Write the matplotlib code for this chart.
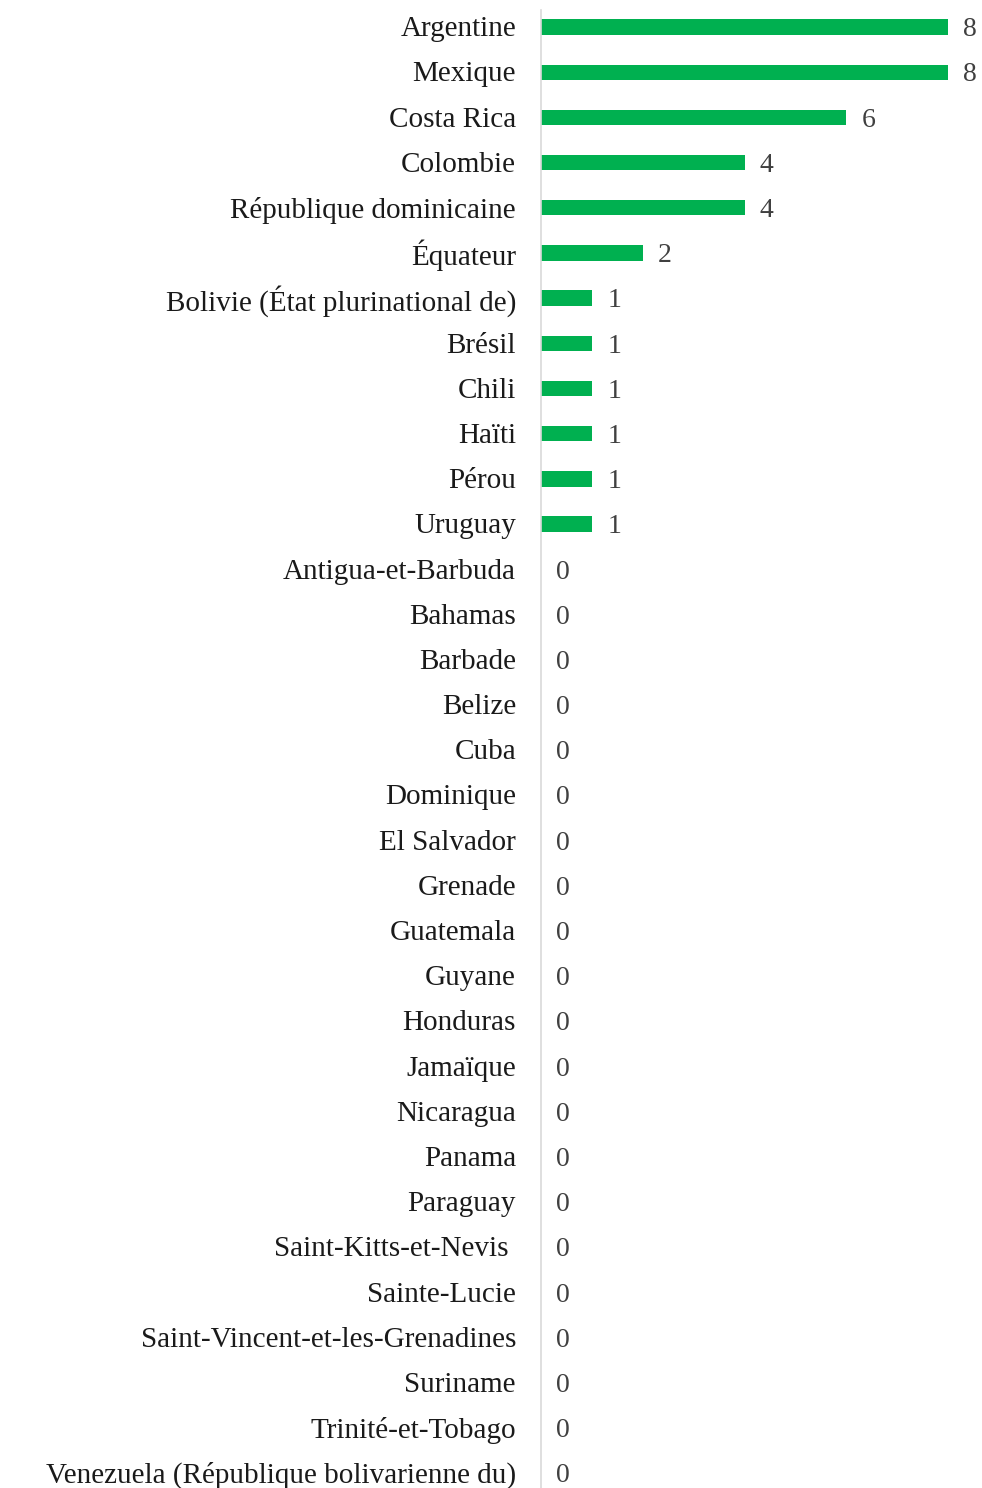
import matplotlib
matplotlib.use("Agg")
import matplotlib.pyplot as plt
import matplotlib.transforms as mtransforms

countries = [
    "Argentine", "Mexique", "Costa Rica", "Colombie", "République dominicaine",
    "Équateur", "Bolivie (État plurinational de)", "Brésil", "Chili", "Haïti",
    "Pérou", "Uruguay", "Antigua-et-Barbuda", "Bahamas", "Barbade", "Belize",
    "Cuba", "Dominique", "El Salvador", "Grenade", "Guatemala", "Guyane",
    "Honduras", "Jamaïque", "Nicaragua", "Panama", "Paraguay",
    "Saint-Kitts-et-Nevis ", "Sainte-Lucie", "Saint-Vincent-et-les-Grenadines",
    "Suriname", "Trinité-et-Tobago", "Venezuela (République bolivarienne du)",
]
values = [8, 8, 6, 4, 4, 2, 1, 1, 1, 1, 1, 1] + [0] * 21

plt.rcParams['font.family'] = ['Liberation Serif', 'DejaVu Serif']

W, H = 982, 1488
fig = plt.figure(figsize=(W / 100, H / 100), dpi=100)
left_px, right_px = 541, 972
ax = fig.add_axes([left_px / W, 0, (right_px - left_px) / W, 1])

ypos = list(range(len(countries)))
ax.barh(ypos, values, height=0.34, color="#00B050")

unit = (948 - 541) / 8
ax.set_xlim(0, (right_px - left_px) / unit)
spacing = (1473 - 27) / 32
ax.set_ylim(32 + 15 / spacing, -27 / spacing)

ax.set_yticks(ypos)
ax.set_yticklabels(countries, fontsize=21, color="#1a1a1a")
ax.tick_params(axis='y', length=0, pad=18)
shift = mtransforms.ScaledTranslation(0, 0.5 / 72, fig.dpi_scale_trans)
for lab in ax.get_yticklabels():
    lab.set_transform(lab.get_transform() + shift)
ax.set_xticks([])

for s in ["top", "right", "bottom"]:
    ax.spines[s].set_visible(False)
ax.spines["left"].set_color("#d9d9d9")
ax.spines["left"].set_linewidth(1.2)
ax.spines["left"].set_bounds(32 + 15 / spacing, -0.38)

for y, v in zip(ypos, values):
    ax.annotate(str(v), (v, y), xytext=(11, -2), textcoords="offset points",
                ha="left", va="center", fontsize=20, color="#404040")

fig.savefig("out.png", dpi=100)
